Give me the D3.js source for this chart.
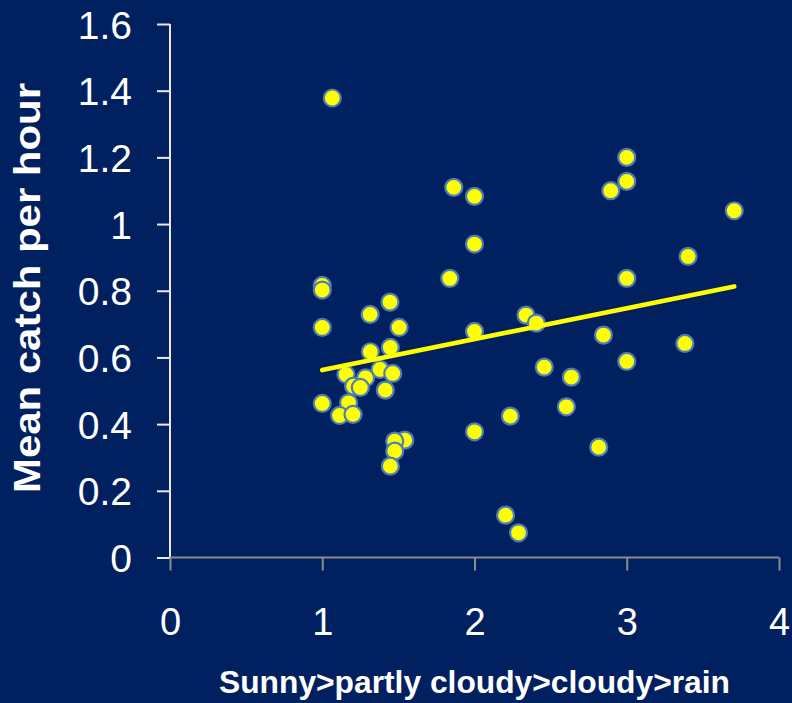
<!DOCTYPE html>
<html>
<head>
<meta charset="utf-8">
<script src="https://cdn.jsdelivr.net/npm/d3@7"></script>
<style>
  html, body { margin: 0; padding: 0; background: #002060; }
  svg { display: block; }
</style>
</head>
<body>
<svg id="chart" width="792" height="703"></svg>
<script>
// ---- data ----
const weatherX = [1.066, 1.0, 1.0, 1.445, 1.314, 1.0, 1.505, 1.447, 1.316, 1.156, 1.285, 1.38, 1.463, 1.206, 1.25, 1.414, 1.0, 1.173, 1.114, 1.202, 1.542, 1.476, 1.476, 1.447, 1.864, 2.0, 2.0, 1.838, 2.338, 2.406, 2.0, 2.458, 2.636, 2.603, 2.235, 2.0, 2.816, 2.204, 2.289, 2.895, 3.0, 3.0, 3.706, 3.403, 3.0, 2.847, 3.382, 3.0];
const catchY   = [1.378, 0.816, 0.802, 0.766, 0.729, 0.69, 0.69, 0.63, 0.617, 0.549, 0.539, 0.564, 0.552, 0.514, 0.51, 0.502, 0.462, 0.464, 0.426, 0.429, 0.352, 0.349, 0.319, 0.274, 1.11, 1.083, 0.94, 0.837, 0.727, 0.703, 0.678, 0.571, 0.541, 0.452, 0.424, 0.377, 0.331, 0.127, 0.074, 1.10, 1.20, 1.128, 1.04, 0.903, 0.837, 0.667, 0.642, 0.588];
const trendX = [1.0, 3.706];
const trendY = [0.562, 0.813];
const xTicks = [0, 1, 2, 3, 4];
const yTicks = [0, 0.2, 0.4, 0.6, 0.8, 1, 1.2, 1.4, 1.6];
const xTitle = "Sunny>partly cloudy>cloudy>rain";
const yTitle = "Mean catch per hour";

(function () {
  const svg = d3.select("#chart");
  const pLeft = 170, pRight = 779, pTop = 24, pBottom = 557.5;
  const x = d3.scaleLinear().domain([0, 4]).range([pLeft, pRight]);
  const y = d3.scaleLinear().domain([0, 1.6]).range([pBottom, pTop]);
  const font = "'Liberation Sans', Arial, sans-serif";

  svg.append("rect").attr("width", 792).attr("height", 703).attr("fill", "#002060");

  // y axis
  const yAxis = svg.append("g")
    .attr("transform", `translate(${pLeft},0)`)
    .call(d3.axisLeft(y).tickValues(yTicks).tickSize(13).tickPadding(25)
          .tickFormat(d => d3.format("~g")(d)));
  yAxis.select(".domain").attr("stroke", "#e8e8e8").attr("stroke-width", 2)
    .attr("d", `M0,${pTop}V${pBottom}`);
  yAxis.selectAll(".tick line").attr("stroke", "#e8e8e8").attr("stroke-width", 2);
  yAxis.selectAll(".tick text").attr("fill", "#ffffff").attr("font-family", font)
    .attr("font-size", 39).attr("dy", "0.36em");

  // x axis
  const xAxis = svg.append("g")
    .attr("transform", `translate(0,${pBottom})`)
    .call(d3.axisBottom(x).tickValues(xTicks).tickSize(13).tickPadding(0)
          .tickFormat(d3.format("d")));
  xAxis.select(".domain").attr("stroke", "#8c8c8c").attr("stroke-width", 2)
    .attr("d", `M${pLeft},0H${pRight}`);
  xAxis.selectAll(".tick line").attr("stroke", "#8c8c8c").attr("stroke-width", 2);
  xAxis.selectAll(".tick text").attr("fill", "#ffffff").attr("font-family", font)
    .attr("font-size", 38).attr("y", 77).attr("dy", 0);

  // points
  const pts = weatherX.map((v, i) => ({ x: v, y: catchY[i] }));
  svg.append("g").selectAll("circle").data(pts).join("circle")
    .attr("cx", d => x(d.x)).attr("cy", d => y(d.y)).attr("r", 8.5)
    .attr("fill", "#ffff00").attr("stroke", "#4a7ebb").attr("stroke-width", 2.2);

  // trend line
  const trend = trendX.map((v, i) => [v, trendY[i]]);
  svg.append("path").datum(trend)
    .attr("d", d3.line().x(d => x(d[0])).y(d => y(d[1])))
    .attr("fill", "none").attr("stroke", "#ffff00").attr("stroke-width", 4.6)
    .attr("stroke-linecap", "round");

  // titles
  svg.append("text").text(xTitle)
    .attr("x", (pLeft + pRight) / 2).attr("y", 693)
    .attr("text-anchor", "middle").attr("fill", "#ffffff")
    .attr("font-family", font).attr("font-weight", "bold").attr("font-size", 31)
    .attr("textLength", 511).attr("lengthAdjust", "spacingAndGlyphs");

  svg.append("text").text(yTitle)
    .attr("transform", `translate(39.5,288) rotate(-90)`)
    .attr("text-anchor", "middle").attr("fill", "#ffffff")
    .attr("font-family", font).attr("font-weight", "bold").attr("font-size", 36)
    .attr("textLength", 410).attr("lengthAdjust", "spacingAndGlyphs");
})();
</script>
</body>
</html>
